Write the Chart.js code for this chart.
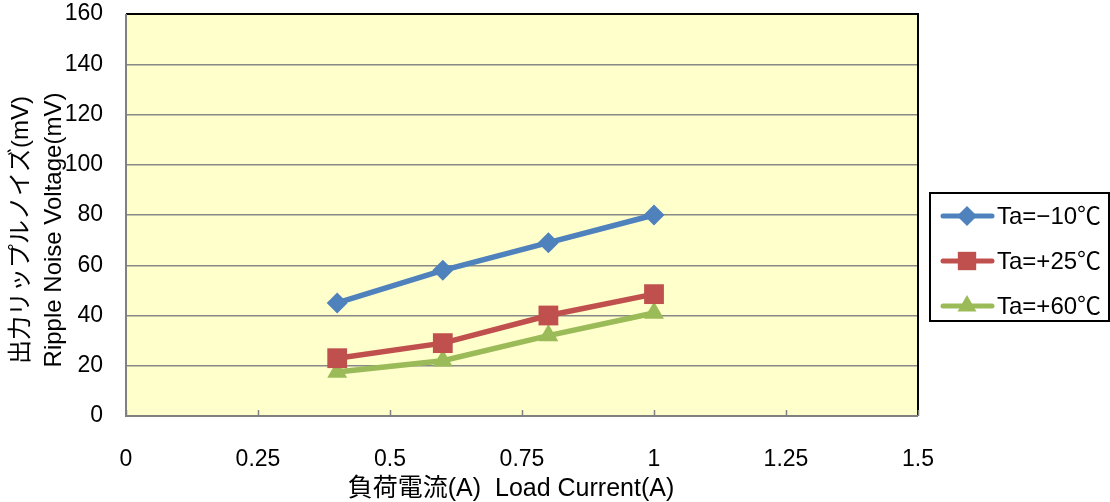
<!DOCTYPE html>
<html>
<head>
<meta charset="utf-8">
<script src="https://cdn.jsdelivr.net/npm/chart.js@4.4.1/dist/chart.umd.min.js"></script>
<style>
    html, body { margin: 0; padding: 0; background: #ffffff; }
    #wrap { width: 1110px; height: 502px; position: relative; }
</style>
</head>
<body>
<div id="wrap"><canvas id="chartRipple"></canvas></div>
<script>
/* ========== Ripple noise vs load current ========== */

const loadCurrent = [0.4, 0.6, 0.8, 1.0];
const rippleMinus10 = [45, 58, 69, 80];
const ripplePlus25 = [23, 29, 40, 48.5];
const ripplePlus60 = [17.5, 22, 32, 41];
const seriesLabels = ['Ta=−10℃', 'Ta=+25℃', 'Ta=+60℃'];
const xTickValues = [0, 0.25, 0.5, 0.75, 1, 1.25, 1.5];
const yTitleLines = ['出力リップルノイズ(mV)', 'Ripple Noise Voltage(mV)'];
const xTitle = '負荷電流(A)  Load Current(A)';

const palette = {
    blue: '#4f81bd',
    red: '#c0504d',
    green: '#9bbb59',
    plotBg: '#ffffcc',
    grid: '#888888',
    text: '#000000',
};

const fontFamily = "'Liberation Sans', Arial, 'Noto Sans CJK JP', sans-serif";

function toPoints(values) {
    return values.map((v, i) => ({ x: loadCurrent[i], y: v }));
}

function makeSeries(label, values, color, style, radius) {
    return {
        label,
        data: toPoints(values),
        borderColor: color,
        backgroundColor: color,
        borderWidth: 5.5,
        pointStyle: style,
        pointRadius: radius,
        pointHoverRadius: radius,
        pointBorderWidth: 0,
        pointBackgroundColor: color,
        tension: 0,
    };
}

// yellow plot background + frame (black top/right, grey left/bottom) + inward x ticks
const plotFrame = {
    id: 'plotFrame',
    beforeDraw(chart) {
        const { ctx, chartArea: a } = chart;
        ctx.save();
        ctx.fillStyle = palette.plotBg;
        ctx.fillRect(a.left, a.top, a.right - a.left, a.bottom - a.top);
        ctx.restore();
    },
    beforeDatasetsDraw(chart) {
        const { ctx, chartArea: a, scales } = chart;
        ctx.save();
        ctx.lineWidth = 2;
        ctx.strokeStyle = '#000000';
        ctx.beginPath();
        ctx.moveTo(a.left, a.top);
        ctx.lineTo(a.right, a.top);
        ctx.lineTo(a.right, a.bottom);
        ctx.stroke();
        ctx.strokeStyle = '#808080';
        ctx.beginPath();
        ctx.moveTo(a.left, a.top);
        ctx.lineTo(a.left, a.bottom);
        ctx.lineTo(a.right, a.bottom);
        ctx.stroke();
        ctx.lineWidth = 1.5;
        scales.x.ticks.forEach(t => {
            const px = Math.round(scales.x.getPixelForValue(t.value)) + 0.5;
            ctx.beginPath();
            ctx.moveTo(px, a.bottom);
            ctx.lineTo(px, a.bottom - 6);
            ctx.stroke();
        });
        ctx.restore();
    },
};

// axis titles placed like the original (y title sits a bit below plot centre)
const axisTitles = {
    id: 'axisTitles',
    afterDraw(chart) {
        const { ctx } = chart;
        ctx.save();
        ctx.fillStyle = palette.text;
        ctx.textAlign = 'center';
        ctx.textBaseline = 'middle';
        ctx.font = `24px ${fontFamily}`;
        const cols = [21, 54];
        yTitleLines.forEach((line, i) => {
            ctx.save();
            ctx.translate(cols[i], 230);
            ctx.rotate(-Math.PI / 2);
            ctx.fillText(line, 0, 0);
            ctx.restore();
        });
        ctx.font = `25px ${fontFamily}`;
        ctx.fillText(xTitle, 511, 489);
        ctx.restore();
    },
};

function drawMarker(ctx, style, x, y, r) {
    ctx.beginPath();
    if (style === 'rectRot') {
        ctx.moveTo(x, y - r);
        ctx.lineTo(x + r, y);
        ctx.lineTo(x, y + r);
        ctx.lineTo(x - r, y);
    } else if (style === 'rect') {
        const h = r * Math.SQRT1_2;
        ctx.rect(x - h, y - h, h * 2, h * 2);
    } else {
        const w = r * Math.sin(Math.PI / 3);
        ctx.moveTo(x, y - r);
        ctx.lineTo(x + w, y + r / 2);
        ctx.lineTo(x - w, y + r / 2);
    }
    ctx.closePath();
    ctx.fill();
}

// boxed legend on the right with line + marker samples
const boxLegend = {
    id: 'boxLegend',
    afterDraw(chart) {
        const { ctx } = chart;
        const box = { left: 930, top: 193, right: 1109, bottom: 321 };
        ctx.save();
        ctx.fillStyle = '#ffffff';
        ctx.fillRect(box.left, box.top, box.right - box.left, box.bottom - box.top);
        ctx.strokeStyle = '#000000';
        ctx.lineWidth = 2;
        ctx.strokeRect(box.left, box.top, box.right - box.left, box.bottom - box.top);
        const rows = [216, 261, 306];
        chart.data.datasets.forEach((ds, i) => {
            const y = rows[i];
            ctx.strokeStyle = ds.borderColor;
            ctx.lineWidth = 5;
            ctx.lineCap = 'round';
            ctx.beginPath();
            ctx.moveTo(943, y);
            ctx.lineTo(992, y);
            ctx.stroke();
            ctx.fillStyle = ds.pointBackgroundColor;
            drawMarker(ctx, ds.pointStyle, 967, y, ds.pointStyle === 'rect' ? 13 : ds.pointRadius * 0.95);
            ctx.fillStyle = palette.text;
            ctx.font = `24px ${fontFamily}`;
            ctx.textBaseline = 'middle';
            ctx.textAlign = 'left';
            ctx.fillText(ds.label, 997, y + 1);
        });
        ctx.restore();
    },
};

const ctx = document.getElementById('chartRipple').getContext('2d');
new Chart(ctx, {
    type: 'line',
    data: {
        datasets: [
            makeSeries(seriesLabels[0], rippleMinus10, palette.blue, 'rectRot', 10.5),
            makeSeries(seriesLabels[1], ripplePlus25, palette.red, 'rect', 14),
            makeSeries(seriesLabels[2], ripplePlus60, palette.green, 'triangle', 11.5),
        ],
    },
    options: {
        responsive: true,
        maintainAspectRatio: false,
        animation: false,
        layout: { padding: { left: 0, top: 14, right: 192, bottom: 0 } },
        plugins: {
            legend: { display: false },
            tooltip: { enabled: false },
        },
        scales: {
            x: {
                type: 'linear',
                min: 0,
                max: 1.5,
                afterFit: s => { s.height = 86; },
                afterBuildTicks: s => {
                    s.ticks = xTickValues.map(v => ({ value: v }));
                },
                ticks: {
                    color: palette.text,
                    padding: 30,
                    maxRotation: 0,
                    font: { family: fontFamily, size: 23 },
                    callback: v => String(+v.toFixed(2)),
                },
                grid: { drawOnChartArea: false, drawTicks: false },
                border: { display: false },
            },
            y: {
                min: 0,
                max: 160,
                afterFit: s => {
                    s.width = 126;
                    s.paddingTop = 0;
                    s.paddingBottom = 0;
                },
                ticks: {
                    stepSize: 20,
                    color: palette.text,
                    padding: 23,
                    font: { family: fontFamily, size: 23 },
                },
                grid: { color: palette.grid, lineWidth: 1.5, drawTicks: false },
                border: { display: false },
            },
        },
    },
    plugins: [plotFrame, axisTitles, boxLegend],
});
</script>
</body>
</html>
